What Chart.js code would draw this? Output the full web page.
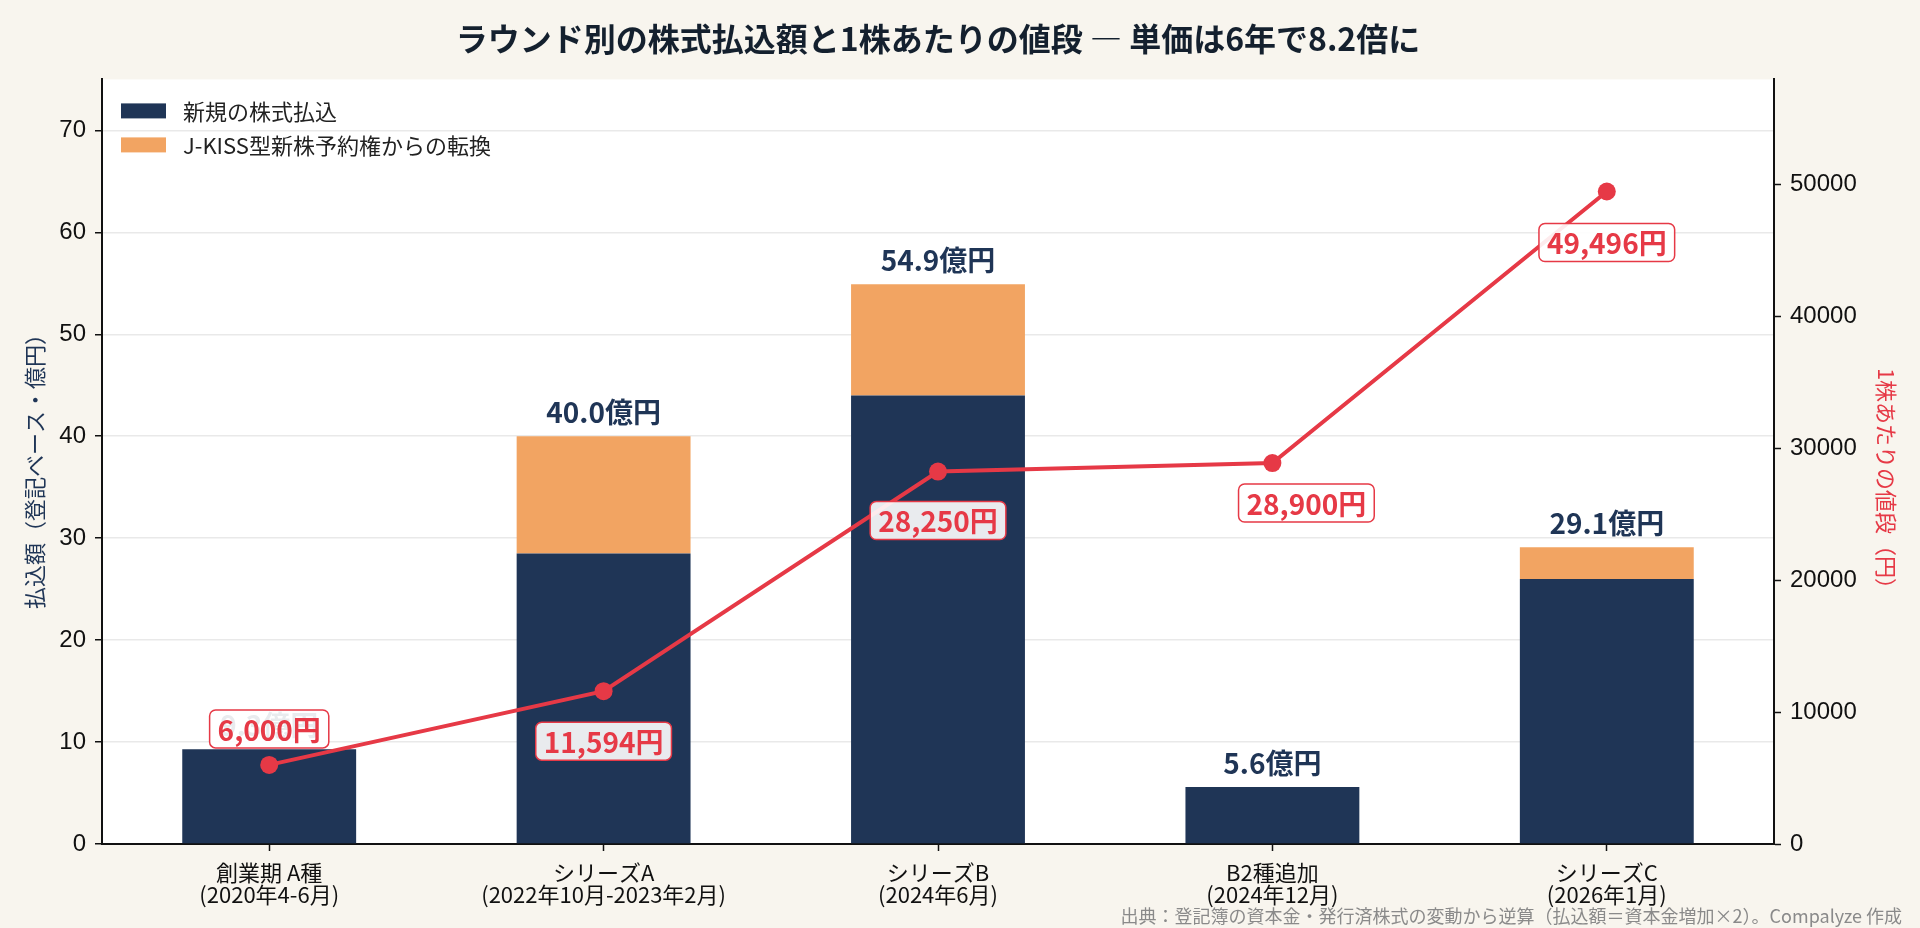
<!DOCTYPE html>
<html lang="ja">
<head>
<meta charset="utf-8">
<title>ラウンド別の株式払込額と1株あたりの値段</title>
<script src="https://cdn.jsdelivr.net/npm/chart.js@4.4.1/dist/chart.umd.min.js"></script>
<style>
  html, body { margin: 0; padding: 0; background: #f8f5ee; }
</style>
</head>
<body>
<canvas id="chartRounds" width="1920" height="928"></canvas>
<script>
// values
const rounds = [
  ['創業期 A種', '(2020年4-6月)'],
  ['シリーズA', '(2022年10月-2023年2月)'],
  ['シリーズB', '(2024年6月)'],
  ['B2種追加', '(2024年12月)'],
  ['シリーズC', '(2026年1月)']
];
const newPaidIn = [9.3, 28.5, 44.0, 5.6, 26.0];      // 億円
const jkissConverted = [0, 11.5, 10.9, 0, 3.1];      // 億円
const pricePerShare = [6000, 11594, 28250, 28900, 49496]; // 円
const amountTicks = [0, 10, 20, 30, 40, 50, 60, 70];
const priceTicks = [0, 10000, 20000, 30000, 40000, 50000];

// label nudges (px) for the price boxes, not data
const priceLabelShift = [[0, -36], [0, 50], [0, 49], [34, 40], [0, 51]];

const NAVY = '#1f3556';
const ORANGE = '#f2a462';
const RED = '#e63946';
const INK = '#111111';
const JP = "'Noto Sans CJK JP', sans-serif";
const NUM = "'Liberation Sans', sans-serif";

Chart.defaults.font.family = JP;

// cream page + white plot area
const backdrop = {
  id: 'backdrop',
  beforeDraw(chart) {
    const { ctx, chartArea: a } = chart;
    ctx.save();
    ctx.fillStyle = '#f8f5ee';
    ctx.fillRect(0, 0, chart.width, chart.height);
    ctx.fillStyle = '#ffffff';
    ctx.fillRect(a.left, a.top, a.right - a.left, a.bottom - a.top);
    ctx.restore();
  }
};

const roundRect = (ctx, x, y, w, h, r) => {
  ctx.beginPath();
  ctx.moveTo(x + r, y);
  ctx.arcTo(x + w, y, x + w, y + h, r);
  ctx.arcTo(x + w, y + h, x, y + h, r);
  ctx.arcTo(x, y + h, x, y, r);
  ctx.arcTo(x, y, x + w, y, r);
  ctx.closePath();
};

// totals above the bars and the boxed price labels
const valueLabels = {
  id: 'valueLabels',
  afterDatasetsDraw(chart) {
    const { ctx } = chart;
    const xs = chart.scales.x;
    const ys = chart.scales.y;
    const y1 = chart.scales.y1;
    ctx.save();
    ctx.textAlign = 'center';
    ctx.textBaseline = 'middle';

    ctx.font = `bold 28px ${JP}`;
    ctx.fillStyle = NAVY;
    newPaidIn.forEach((v, i) => {
      const total = v + jkissConverted[i];
      const x = xs.getPixelForValue(i);
      const y = ys.getPixelForValue(total) - 24;
      ctx.fillText(`${total.toFixed(1)}億円`, x, y);
    });

    pricePerShare.forEach((v, i) => {
      const text = `${v.toLocaleString('ja-JP')}円`;
      const x = xs.getPixelForValue(i) + priceLabelShift[i][0];
      const y = y1.getPixelForValue(v) + priceLabelShift[i][1];
      const w = ctx.measureText(text).width + 16;
      const h = 38;
      roundRect(ctx, x - w / 2, y - h / 2, w, h, 6);
      ctx.fillStyle = 'rgba(255,255,255,0.9)';
      ctx.fill();
      ctx.lineWidth = 1.5;
      ctx.strokeStyle = RED;
      ctx.stroke();
      ctx.fillStyle = RED;
      ctx.fillText(text, x, y + 1);
    });
    ctx.restore();
  }
};

// legend inside the plot (top left), axis titles, source note
const decorations = {
  id: 'decorations',
  afterDraw(chart) {
    const { ctx, chartArea: a } = chart;
    ctx.save();
    ctx.font = `22px ${JP}`;
    ctx.textAlign = 'left';
    ctx.textBaseline = 'middle';
    chart.data.datasets.slice(0, 2).forEach((ds, i) => {
      const top = a.top + 24 + i * 34;
      ctx.fillStyle = ds.backgroundColor;
      ctx.fillRect(a.left + 19, top, 45, 15);
      ctx.fillStyle = '#222222';
      ctx.fillText(ds.label, a.left + 81, top + 8);
    });

    ctx.textAlign = 'center';
    ctx.save();
    ctx.translate(35, 466);
    ctx.rotate(-Math.PI / 2);
    ctx.fillStyle = NAVY;
    ctx.fillText('払込額（登記ベース・億円）', 0, 0);
    ctx.restore();

    ctx.save();
    ctx.translate(1886, 484);
    ctx.rotate(Math.PI / 2);
    ctx.fillStyle = RED;
    ctx.fillText('1株あたりの値段（円）', 0, 0);
    ctx.restore();

    ctx.font = `18px ${JP}`;
    ctx.fillStyle = '#8a8a8a';
    ctx.textAlign = 'right';
    ctx.fillText('出典：登記簿の資本金・発行済株式の変動から逆算（払込額＝資本金増加×2）。Compalyze 作成', 1902, 916);
    ctx.restore();
  }
};

const ctx = document.getElementById('chartRounds').getContext('2d');
new Chart(ctx, {
  type: 'bar',
  data: {
    labels: rounds,
    datasets: [
      {
        label: '新規の株式払込',
        data: newPaidIn,
        backgroundColor: NAVY,
        yAxisID: 'y',
        stack: 'paid',
        order: 1,
        barPercentage: 0.52,
        categoryPercentage: 1
      },
      {
        label: 'J-KISS型新株予約権からの転換',
        data: jkissConverted,
        backgroundColor: ORANGE,
        yAxisID: 'y',
        stack: 'paid',
        order: 1,
        barPercentage: 0.52,
        categoryPercentage: 1
      },
      {
        type: 'line',
        label: '1株あたりの値段',
        data: pricePerShare,
        yAxisID: 'y1',
        borderColor: RED,
        backgroundColor: RED,
        borderWidth: 4,
        pointRadius: 9,
        pointBorderWidth: 0,
        pointBackgroundColor: RED,
        tension: 0,
        order: 0
      }
    ]
  },
  options: {
    responsive: false,
    animation: false,
    devicePixelRatio: 1,
    layout: { padding: 0 },
    plugins: {
      tooltip: { enabled: false },
      legend: { display: false },
      title: {
        display: true,
        text: 'ラウンド別の株式払込額と1株あたりの値段 ― 単価は6年で8.2倍に',
        fullSize: false,
        color: '#14202e',
        font: { size: 32, weight: 'bold' },
        padding: { top: 20, bottom: 21 }
      }
    },
    scales: {
      x: {
        stacked: true,
        offset: true,
        grid: { offset: false, drawOnChartArea: false, tickLength: 7, tickColor: INK, tickWidth: 1.5 },
        border: { color: INK, width: 2 },
        ticks: { color: INK, font: { size: 22, lineHeight: 1.02 }, padding: 10, maxRotation: 0, autoSkip: false },
        afterFit: (s) => { s.height = 84; }
      },
      y: {
        position: 'left',
        stacked: true,
        min: 0,
        max: 75,
        afterBuildTicks: (s) => { s.ticks = amountTicks.map((value) => ({ value })); },
        grid: { color: '#e9e9e9', lineWidth: 1.5, tickColor: INK, tickLength: 7, tickWidth: 1.5 },
        border: { color: INK, width: 2 },
        ticks: { padding: 9, color: INK, font: { family: NUM, size: 24 } },
        afterFit: (s) => { s.width = 102; }
      },
      y1: {
        position: 'right',
        min: 0,
        max: 58000,
        afterBuildTicks: (s) => { s.ticks = priceTicks.map((value) => ({ value })); },
        grid: { drawOnChartArea: false, tickColor: INK, tickLength: 7, tickWidth: 1.5 },
        border: { color: INK, width: 2 },
        ticks: {
          padding: 9,
          color: INK,
          font: { family: NUM, size: 24 },
          callback: (v) => String(v)
        },
        afterFit: (s) => { s.width = 146; }
      }
    }
  },
  plugins: [backdrop, valueLabels, decorations]
});
</script>
</body>
</html>
